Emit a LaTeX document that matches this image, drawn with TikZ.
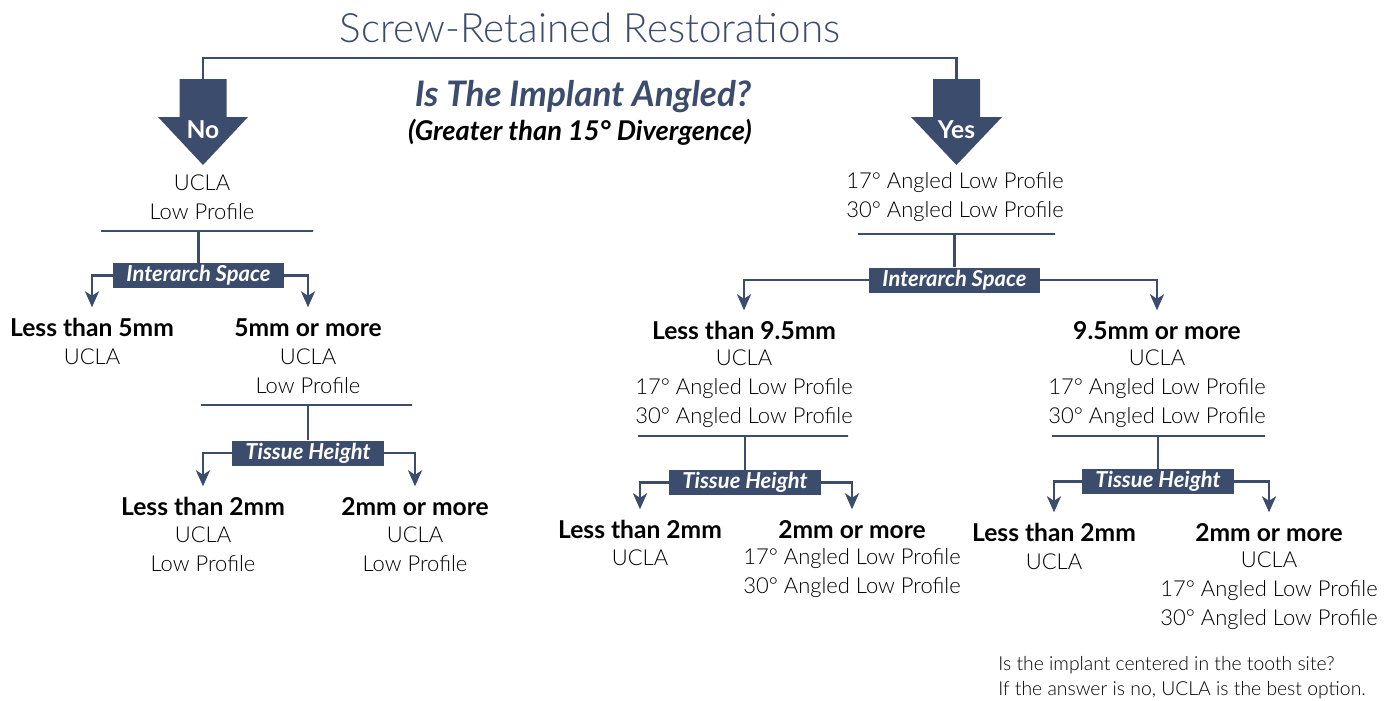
\documentclass[tikz,border=0pt]{standalone}
\usepackage{fontspec}
\setmainfont{Lato}
\newfontfamily\lightfont{Lato Light}
\usetikzlibrary{arrows.meta}
\definecolor{slate}{RGB}{60,76,108}

\begin{document}
\begin{tikzpicture}[
  conn/.style={draw=slate, line width=1.5pt},
  arr/.style={conn, -{Stealth[length=0.32cm, width=0.28cm, inset=0.09cm]}},
  bar/.style={draw=slate, line width=1.5pt, inner sep=0, minimum height=0},
  qbox/.style={fill=slate, text=white, font=\fontsize{12.5}{14}\selectfont\bfseries\itshape, inner xsep=0.26cm, inner ysep=0, minimum height=0.5cm},
  head/.style={font=\fontsize{14}{16}\selectfont\bfseries, text height=9.5pt, text depth=0pt, inner xsep=0, inner ysep=0.24cm},
  opts/.style={align=center, font=\fontsize{12.5}{16.5}\selectfont\lightfont, inner sep=0},
  answer/.style={font=\fontsize{14}{16}\selectfont\bfseries, text=white}
]
\useasboundingbox (0,0) rectangle (27.84,-14);

\node (title) [font=\fontsize{23}{27}\selectfont\lightfont, text=slate] at (11.8,-0.56) {Screw-Retained Restorations};
\node (q1) [font=\fontsize{20}{24}\selectfont\bfseries\itshape, text=slate] at (11.66,-1.94) {Is The Implant Angled?};
\node (q2) [font=\fontsize{15.5}{18}\selectfont\bfseries\itshape] at (11.6,-2.64) {(Greater than 15° Divergence)};

% big arrows
\coordinate (notop) at (4.06,-1.58);
\coordinate (yestop) at (19.13,-1.58);
\fill [slate] (notop) ++(-0.47,0) -- ++(0.94,0) -- ++(0,-0.76) -- ++(0.43,0) -- ++(-0.9,-0.96) -- ++(-0.9,0.96) -- ++(0.43,0) -- cycle;
\fill [slate] (yestop) ++(-0.47,0) -- ++(0.94,0) -- ++(0,-0.76) -- ++(0.44,0) -- ++(-0.91,-0.96) -- ++(-0.91,0.96) -- ++(0.44,0) -- cycle;
\draw [conn] (notop) -- ++(0,0.42) -| (yestop);
\node (no) [answer] at (4.06,-2.6) {No};
\node (yes) [answer] at (19.13,-2.6) {Yes};

% no side
\node (nores) [opts] at (4.04,-3.94) {UCLA\\Low Profile};
\node (bar1) [bar, minimum width=4.24cm] at (4.14,-4.62) {};
\node (ia1) [qbox] at (3.97,-5.51) {Interarch Space};
\node (lt5) [head] at (1.84,-6.56) {Less than 5mm};
\node (lt5t) [opts] at (1.84,-7.14) {UCLA};
\node (ge5) [head] at (6.16,-6.56) {5mm or more};
\node (ge5t) [opts] at (6.16,-7.43) {UCLA\\Low Profile};
\node (bar2) [bar, minimum width=4.22cm] at (6.13,-8.10) {};
\node (th1) [qbox] at (6.16,-9.06) {Tissue Height};
\node (lt2a) [head] at (4.06,-10.14) {Less than 2mm};
\node (lt2at) [opts] at (4.06,-10.98) {UCLA\\Low Profile};
\node (ge2a) [head] at (8.30,-10.14) {2mm or more};
\node (ge2at) [opts] at (8.30,-10.98) {UCLA\\Low Profile};

\draw [conn] (ia1.north) -- (ia1.north |- bar1);
\draw [arr] (ia1.west) -| (lt5.north);
\draw [arr] (ia1.east) -| (ge5.north);
\draw [conn] (th1.north) -- (th1.north |- bar2);
\draw [arr] (th1.west) -| (lt2a.north);
\draw [arr] (th1.east) -| (ge2a.north);

% yes side
\node (yesres) [opts] at (19.10,-3.94) {17° Angled Low Profile\\30° Angled Low Profile};
\node (bar3) [bar, minimum width=3.94cm] at (19.13,-4.68) {};
\node (ia2) [qbox] at (19.09,-5.60) {Interarch Space};
\node (lt95) [head] at (14.88,-6.62) {Less than 9.5mm};
\node (lt95t) [opts] at (14.88,-7.77) {UCLA\\17° Angled Low Profile\\30° Angled Low Profile};
\node (ge95) [head] at (23.14,-6.62) {9.5mm or more};
\node (ge95t) [opts] at (23.14,-7.77) {UCLA\\17° Angled Low Profile\\30° Angled Low Profile};
\node (bar4) [bar, minimum width=4.2cm] at (14.86,-8.72) {};
\node (th2) [qbox] at (14.90,-9.65) {Tissue Height};
\node (lt2b) [head] at (12.80,-10.60) {Less than 2mm};
\node (lt2bt) [opts] at (12.80,-11.16) {UCLA};
\node (ge2b) [head] at (17.04,-10.60) {2mm or more};
\node (ge2bt) [opts] at (17.04,-11.46) {17° Angled Low Profile\\30° Angled Low Profile};
\node (bar5) [bar, minimum width=4.26cm] at (23.17,-8.72) {};
\node (th3) [qbox] at (23.16,-9.63) {Tissue Height};
\node (lt2c) [head] at (21.08,-10.66) {Less than 2mm};
\node (lt2ct) [opts] at (21.08,-11.24) {UCLA};
\node (ge2c) [head] at (25.38,-10.66) {2mm or more};
\node (ge2ct) [opts] at (25.38,-11.81) {UCLA\\17° Angled Low Profile\\30° Angled Low Profile};

\draw [conn] (ia2.north) -- (ia2.north |- bar3);
\draw [arr] (ia2.west) -| (lt95.north);
\draw [arr] (ia2.east) -| (ge95.north);
\draw [conn] (th2.north) -- (th2.north |- bar4);
\draw [arr] (th2.west) -| (lt2b.north);
\draw [arr] (th2.east) -| (ge2b.north);
\draw [conn] (th3.north) -- (th3.north |- bar5);
\draw [arr] (th3.west) -| (lt2c.north);
\draw [arr] (th3.east) -| (ge2c.north);

\node (note) [anchor=west, align=left, font=\fontsize{11}{14}\selectfont\lightfont, inner sep=0] at (19.96,-13.55) {Is the implant centered in the tooth site?\\If the answer is no, UCLA is the best option.};
\end{tikzpicture}
\end{document}
